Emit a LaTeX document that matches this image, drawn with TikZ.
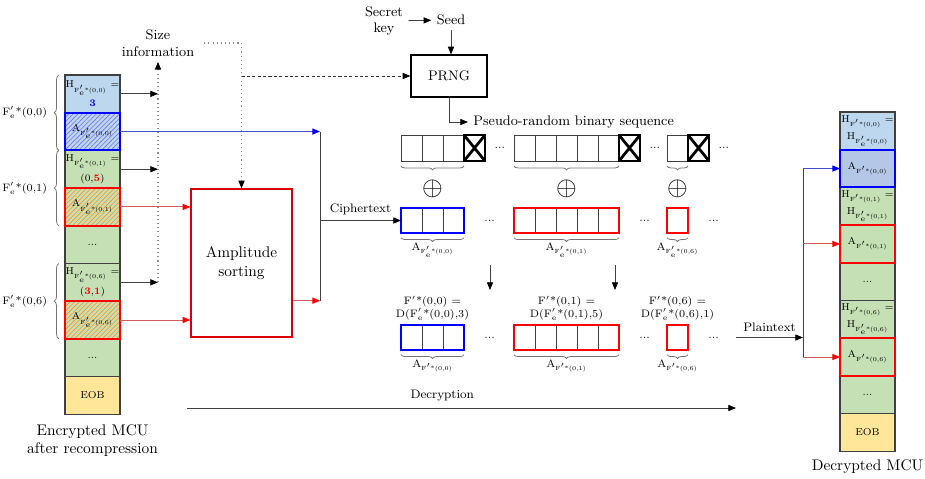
\documentclass[tikz,border=0pt]{standalone}
\usepackage{amsmath}
\usetikzlibrary{positioning,arrows.meta,patterns,decorations.pathreplacing,calc}
\definecolor{hdrblue}{HTML}{BDD7EE}
\definecolor{hdrgreen}{HTML}{C5E0B4}
\definecolor{eobyellow}{HTML}{FFE699}
\definecolor{decblue}{HTML}{B4C7E7}
\definecolor{lnred}{HTML}{D25A5A}
\definecolor{lnblue}{HTML}{4050C8}
\newcommand{\Fe}[1]{F$'_{\mathrm{e}}$*(#1)}
\newcommand{\Fd}[1]{F$'$*(#1)}
\newcommand{\sbs}[1]{\textsubscript{\fontsize{3.9}{4.5}\selectfont #1}}
\tikzset{
  cell/.style={draw=black!75, line width=0.8pt, minimum width=35.75pt, minimum height=24.5pt,
    inner sep=0pt, outer sep=0pt, align=center, font=\fontsize{6.5}{8}\selectfont},
  hblue/.style={cell, fill=hdrblue},
  hgreen/.style={cell, fill=hdrgreen},
  eobcell/.style={cell, fill=eobyellow},
  hatchblue/.style={cell, preaction={fill=hdrblue}, pattern=north east lines, pattern color=blue!55},
  hatchred/.style={cell, preaction={fill=hdrgreen}, pattern=north east lines, pattern color=orange!85},
  bitcell/.style={draw=black!75, line width=0.6pt},
  bitgrp/.style={minimum height=16.25pt, inner sep=0pt, outer sep=0pt, line width=1.3pt},
  ampbox/.style={draw=red!85!black, line width=0.9pt, minimum width=65.65pt, minimum height=96.2pt,
    inner sep=0pt, align=center},
  garrow/.style={draw=black!75, line width=0.5pt, -{Triangle[length=5pt,width=4pt,color=black]}},
  rarrow/.style={draw=lnred, line width=0.6pt, -{Triangle[length=5pt,width=4pt,color=red]}},
  barrow/.style={draw=lnblue, line width=0.6pt, -{Triangle[length=5pt,width=4pt,color=blue]}},
  gline/.style={draw=black!75, line width=0.5pt},
  dotln/.style={draw=black!45, dotted, line width=0.7pt},
  dashln/.style={draw=black!80, dash pattern=on 2pt off 1.5pt, line width=0.5pt},
  lbrace/.style={decorate, decoration={brace, amplitude=3pt}, draw=black!55, line width=0.5pt},
  bbrace/.style={decorate, decoration={brace, amplitude=2.5pt}, draw=black!55, line width=0.5pt},
  dots/.style={font=\scriptsize, inner sep=1pt},
}
\begin{document}
\begin{tikzpicture}[x=0.65pt,y=-0.65pt]
  \useasboundingbox (0,0) rectangle (925,478);
  % encrypted MCU
  \node[hblue] (lh00) at (92.5,93.85) {H\sbs{\Fe{0,0}} =\\[2pt]\textcolor{blue}{\textbf{3}}};
  \node[hatchblue, below=0pt of lh00] (la00) {A\sbs{\Fe{0,0}}};
  \node[hgreen, below=0pt of la00] (lh01) {H\sbs{\Fe{0,1}} =\\[2pt](0,\textcolor{red}{\textbf{5}})};
  \node[hatchred, below=0pt of lh01] (la01) {A\sbs{\Fe{0,1}}};
  \node[hgreen, below=0pt of la01] (ldots1) {...};
  \node[hgreen, below=0pt of ldots1] (lh06) {H\sbs{\Fe{0,6}} =\\[2pt](\textcolor{red}{\textbf{3}},\textcolor{red}{\textbf{1}})};
  \node[hatchred, below=0pt of lh06] (la06) {A\sbs{\Fe{0,6}}};
  \node[hgreen, below=0pt of la06] (ldots2) {...};
  \node[eobcell, below=0pt of ldots2] (leob) {EOB};
  \node[align=center, below=3pt of leob] (lcap) {Encrypted MCU\\after recompression};
  % decrypted MCU
  \node[hblue] (rh00) at (867.5,130.85) {H\sbs{\Fd{0,0}} =\\[2pt]H\sbs{\Fe{0,0}}};
  \node[cell, fill=decblue, below=0pt of rh00] (ra00) {A\sbs{\Fd{0,0}}};
  \node[hgreen, below=0pt of ra00] (rh01) {H\sbs{\Fd{0,1}} =\\[2pt]H\sbs{\Fe{0,1}}};
  \node[hgreen, below=0pt of rh01] (ra01) {A\sbs{\Fd{0,1}}};
  \node[hgreen, below=0pt of ra01] (rdots1) {...};
  \node[hgreen, below=0pt of rdots1] (rh06) {H\sbs{\Fd{0,6}} =\\[2pt]H\sbs{\Fe{0,6}}};
  \node[hgreen, below=0pt of rh06] (ra06) {A\sbs{\Fd{0,6}}};
  \node[hgreen, below=0pt of ra06] (rdots2) {...};
  \node[eobcell, below=0pt of rdots2] (reob) {EOB};
  \node[below=2pt of reob] (rcap) {Decrypted MCU};
  \foreach \c/\col in {la00/blue, la01/red, la06/red, ra00/blue, ra01/red, ra06/red}
    \draw[\col, line width=1.3pt] (\c.south west) rectangle (\c.north east);
  \foreach \a/\b/\lab in {la00/lh00/{0,0}, la01/lh01/{0,1}, la06/lh06/{0,6}}
    \draw[lbrace] ([xshift=-4pt]\a.south west) -- ([xshift=-4pt]\b.north west)
      node[midway, left=4pt, font=\scriptsize, black] {\Fe{\lab}};

  \node[font=\small, align=center] (sinfo) at (158,43) {Size\\information};
  \node[ampbox] (amp) at (241.5,263) {Amplitude\\sorting};
  \node[font=\small, align=center] (skey) at (384,21) {Secret\\key};
  \node[font=\small] (seed) at (451,20) {Seed};
  \node[draw, line width=0.8pt, minimum width=49.4pt, minimum height=27.3pt, font=\small] (prng) at (449,76) {PRNG};
  \node[font=\small, anchor=west] (prbs) at (468,122) {Pseudo-random binary sequence};

  % key stream
  \foreach \nm/\xl/\nb in {k1/401/4, k2/514/6, k3/667/2} {
    \foreach \i in {1,...,\nb}
      \draw[bitcell] (\xl+21*\i-21,135) rectangle ++(21,26);
    \node[bitgrp, minimum width=\nb*13.65pt, minimum height=16.9pt, anchor=west] (\nm) at (\xl,148) {};
    \draw[line width=1.2pt] (\xl+21*\nb-21,135) rectangle ++(21,26);
    \draw[line width=1.8pt] (\xl+21*\nb-21,135) -- ++(21,26) (\xl+21*\nb,135) -- ++(-21,26);
    \draw[bbrace] (\xl+21*\nb-21,166) -- (\xl,166);
    \node[dots, right=5pt of \nm] (\nm-dots) {...};
  }
  % ciphertext
  \foreach \nm/\xl/\nb/\col/\lab in {c1/401/3/blue/{0,0}, c2/514/5/red/{0,1}, c3/667/1/red/{0,6}} {
    \foreach \i in {1,...,\nb}
      \draw[bitcell] (\xl+21*\i-21,208) rectangle ++(21,25);
    \node[bitgrp, draw=\col, minimum width=\nb*13.65pt, anchor=west] (\nm) at (\xl,220.5) {};
    \node[dots, right=12pt of \nm] (\nm-dots) {...};
    \draw[bbrace] ([yshift=-3pt]\nm.south east) -- ([yshift=-3pt]\nm.south west)
      node[midway, below=3pt, font=\scriptsize, black, inner sep=0pt] {A\sbs{\Fe{\lab}}};
    \node[font=\LARGE, inner sep=0pt] (\nm-xor) at (\nm.north |- 0,189) {$\oplus$};
  }
  % plaintext
  \foreach \nm/\xl/\nb/\col/\lab/\kv in {p1/401/3/blue/{0,0}/3, p2/514/5/red/{0,1}/5, p3/667/1/red/{0,6}/1} {
    \foreach \i in {1,...,\nb}
      \draw[bitcell] (\xl+21*\i-21,325) rectangle ++(21,25);
    \node[bitgrp, draw=\col, minimum width=\nb*13.65pt, anchor=west] (\nm) at (\xl,337.5) {};
    \node[dots, right=12pt of \nm] (\nm-dots) {...};
    \node[font=\scriptsize, align=center, above=3pt of \nm, inner sep=0pt] (\nm-lab) {\Fd{\lab} =\\D(\Fe{\lab},\kv)};
    \draw[bbrace] ([yshift=-3pt]\nm.south east) -- ([yshift=-3pt]\nm.south west)
      node[midway, below=3pt, font=\scriptsize, black, inner sep=0pt] {A\sbs{\Fd{\lab}}};
  }

  % connectors
  \foreach \c in {lh00, lh01, lh06}
    \draw[garrow] (\c.east) -- (\c.east -| sinfo.south);
  \draw[dotln, -{Triangle[length=5pt,width=4pt,color=black]}] (lh06.east -| sinfo.south) -- (sinfo.south);
  \draw[dotln, -{Triangle[length=5pt,width=4pt,color=black]}] ([xshift=3pt]sinfo.east) -| (amp.north);
  \draw[dashln, -{Triangle[length=5pt,width=4pt,color=black]}] (prng.west -| amp.north) -- (prng.west);
  \foreach \c in {la01, la06}
    \draw[rarrow] (\c.east) -- (\c.east -| amp.west);
  \coordinate (jn) at (320,220.5);
  \coordinate (jt) at (la00.east -| jn);
  \coordinate (ro) at ($(amp.south east)+(0,-37)$);
  \draw[barrow] (la00.east) -- (jt);
  \draw[rarrow] (ro) -- (ro -| jn);
  \draw[gline] (jt) -- (ro -| jn);
  \draw[garrow] (jn) -- (c1.west) node[midway, above, font=\footnotesize] {Ciphertext};
  \draw[garrow] (skey) -- (seed);
  \draw[garrow] (seed) -- (seed |- prng.north);
  \draw[garrow] (prng.south) |- (prbs.west);
  \foreach \x in {490, 615}
    \draw[garrow] (\x,265) -- (\x,290);
  \coordinate (rj) at (803,0);
  \draw[gline] (ra00.west -| rj) -- (ra06.west -| rj);
  \draw[barrow] (ra00.west -| rj) -- (ra00.west);
  \foreach \c in {ra01, ra06}
    \draw[rarrow] (\c.west -| rj) -- (\c.west);
  \draw[garrow] ([xshift=10pt]p3-dots.east) -- (p3-dots.east -| rj) node[midway, above, font=\footnotesize] {Plaintext};
  \coordinate (ds) at (187,408);
  \coordinate (de) at (736,408);
  \draw[garrow] (ds) -- (de) node[pos=0.465, above=1pt, font=\footnotesize] {Decryption};
\end{tikzpicture}
\end{document}
